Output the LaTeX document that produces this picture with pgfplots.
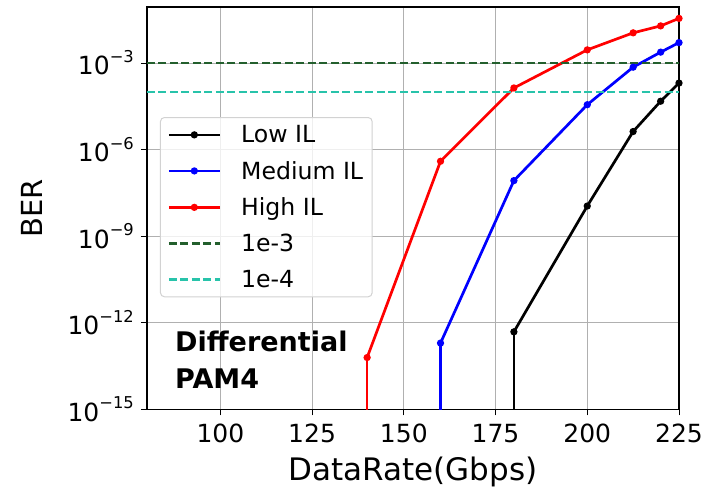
\documentclass[border=0pt]{standalone}
\usepackage{pgfplots}
\pgfplotsset{compat=1.18}
\usepackage{fontspec}
\setmainfont{DejaVu Sans}
\definecolor{gridgray}{RGB}{176,176,176}
\definecolor{thrgreen}{RGB}{35,95,45}
\definecolor{thrcyan}{RGB}{40,195,170}
\definecolor{legframe}{RGB}{210,210,210}
\newcommand{\ytl}[1]{10\raisebox{12.3pt}{\fontsize{16.3}{18}\selectfont −#1}}
\begin{document}
\begin{tikzpicture}
\begin{axis}[
  at={(0,0)}, anchor=south west,
  scale only axis, width=532pt, height=402.5pt,
  xmin=80, xmax=225, ymode=log, ymin=1e-15, ymax=0.088,
  xtick={100,125,150,175,200,225}, xticklabels={100,125,150,175,200,225},
  ytick={1e-15,1e-12,1e-9,1e-6,1e-3},
  yticklabels={\ytl{15},\ytl{12},\ytl{9},\ytl{6},\ytl{3}},
  yminorticks=false, xminorticks=false,
  tick align=outside, major tick length=6pt,
  xtick pos=bottom, ytick pos=left,
  tick style={black, line width=1pt},
  grid=major, major grid style={gridgray, line width=1pt},
  axis line style={black, line width=1.3pt},
  tick label style={font=\fontsize{25}{30}\selectfont},
  xticklabel style={anchor=base, inner sep=0pt, yshift=-27pt},
  yticklabel style={anchor=base east, inner sep=0pt, xshift=-7pt, yshift=-11.7pt},
  xlabel={DataRate(Gbps)},
  xlabel style={at={(axis description cs:0.5,0)}, anchor=base, yshift=-70.5pt, inner sep=0pt, font=\fontsize{31}{36}\selectfont},
  ylabel={BER},
  ylabel style={at={(axis description cs:-0.2167,0.5)}, anchor=center, inner sep=0pt, font=\fontsize{29}{34}\selectfont},
  legend image code/.code={\draw[mark repeat=2,mark phase=2,#1] plot coordinates {(0pt,0pt) (25.5pt,0pt) (51pt,0pt)};},
  legend cell align=left,
  legend style={at={(axis description cs:0.0244,0.7267)}, anchor=north west,
    draw=legframe, line width=1pt, rounded corners=4pt, fill=white, fill opacity=0.8, text opacity=1,
    font=\fontsize{23.6}{28}\selectfont, inner xsep=7pt, inner ysep=6pt, row sep=13pt},
]
% vertical drops to the bottom of the axis
\addplot[black, line width=2.7pt, forget plot] coordinates {(180,1e-16) (180,4.9e-13)};
\addplot[blue, line width=2.7pt, forget plot] coordinates {(160,1e-16) (160,2.0e-13)};
\addplot[red, line width=2.7pt, forget plot] coordinates {(140,1e-16) (140,6.31e-14)};

\addplot[black, line width=2.7pt, mark=*, mark size=2.2pt] coordinates {
 (180,4.9e-13) (200,1.12e-8) (212.5,4.27e-6) (220,4.79e-5) (225,2.04e-4)};
\addlegendentry{\hspace{18pt}Low IL}
\addplot[blue, line width=2.7pt, mark=*, mark size=2.2pt] coordinates {
 (160,2.0e-13) (180,8.5e-8) (200,3.63e-5) (212.5,7.24e-4) (220,2.40e-3) (225,5.13e-3)};
\addlegendentry{\hspace{18pt}Medium IL}
\addplot[red, line width=2.7pt, mark=*, mark size=2.2pt] coordinates {
 (140,6.31e-14) (160,3.98e-7) (180,1.38e-4) (200,2.88e-3) (212.5,1.12e-2) (220,1.95e-2) (225,3.55e-2)};
\addlegendentry{\hspace{18pt}High IL}
\addplot[thrgreen, line width=2.2pt, dash pattern=on 8pt off 3.5pt] coordinates {(80,1e-3) (225,1e-3)};
\addlegendentry{\hspace{18pt}1e-3}
\addplot[thrcyan, line width=2.2pt, dash pattern=on 8pt off 3.5pt] coordinates {(80,1e-4) (225,1e-4)};
\addlegendentry{\hspace{18pt}1e-4}

\node[anchor=base west, inner sep=0pt, font=\bfseries\fontsize{27}{32}\selectfont] at (axis description cs:0.0526,0.1453) {Differential};
\node[anchor=base west, inner sep=0pt, font=\bfseries\fontsize{27}{32}\selectfont] at (axis description cs:0.0526,0.0534) {PAM4};
\end{axis}
\pgfresetboundingbox
\path[use as bounding box] (-147pt,-79.5pt) rectangle (558pt,409.5pt);
\end{tikzpicture}
\end{document}
